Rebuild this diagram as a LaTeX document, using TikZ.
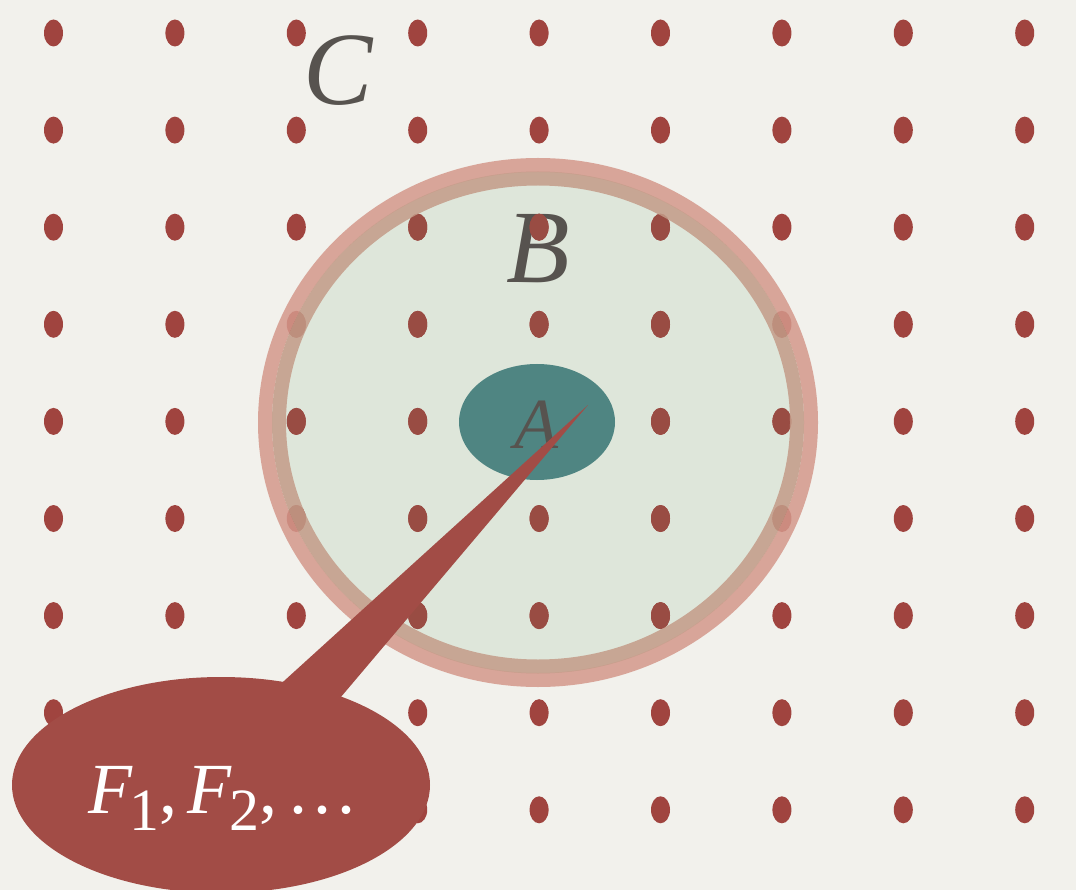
\documentclass[tikz,border=0pt]{standalone}
\usepackage{fontspec}
\setmainfont{Liberation Serif}
\usetikzlibrary{shapes.geometric}
\definecolor{paper}{HTML}{F2F1EC}
\definecolor{dotred}{HTML}{A0443F}
\definecolor{dotbrown}{HTML}{994C43}
\definecolor{fillgreen}{HTML}{DEE6DA}
\definecolor{ringout}{HTML}{D4988B}
\definecolor{ringin}{HTML}{C49B88}
\definecolor{tealA}{HTML}{4F8582}
\definecolor{calloutred}{HTML}{A24C46}
\definecolor{ink}{HTML}{57534F}
\newcommand{\subdigit}[1]{\raisebox{-17pt}{\fontsize{60}{60}\selectfont #1}}
\begin{document}
\begin{tikzpicture}[x=1pt,y=-1pt,
  dotmark/.style={fill=dotred},
  bigletter/.style={text=ink, inner sep=0pt, anchor=base, font=\fontsize{104}{104}\selectfont\itshape},
  smallletter/.style={text=ink, inner sep=0pt, anchor=base, font=\fontsize{72}{72}\selectfont\itshape},
  ringband/.style={line width=14pt, opacity=0.85},
  calloutfill/.style={fill=calloutred, draw=none}]
\useasboundingbox (0,0) rectangle (1076,890);
\fill[paper] (0,0) rectangle (1076,890);
% region B fill
\fill[fillgreen] (538,422.5) ellipse [x radius=266, y radius=250.5];
\node[bigletter] (Blabel) at (538,283) {B};
% grid of dots
\foreach \i in {0,...,8}{
  \foreach \j in {0,...,8}{
    \fill[dotmark] ({53.5+121.4*\i},{33+97.1*\j}) ellipse [x radius=9.5, y radius=13.5];
  }
}
% dots seen through region B are browner
\begin{scope}
  \clip (538,422.5) ellipse [x radius=266, y radius=250.5];
  \foreach \i in {0,...,8}{
    \foreach \j in {0,...,8}{
      \fill[dotbrown] ({53.5+121.4*\i},{33+97.1*\j}) ellipse [x radius=9.5, y radius=13.5];
    }
  }
\end{scope}
% ring
\draw[ringband, ringout] (538,422.5) ellipse [x radius=273, y radius=257.5];
\draw[ringband, ringin] (538,422.5) ellipse [x radius=259, y radius=244];
% region A
\node[ellipse, fill=tealA, minimum width=156, minimum height=116, inner sep=0pt] (A) at (537,422) {};
\node[smallletter] (Alabel) at (536,448) {A};
% label C
\node[bigletter] (Clabel) at (338,105) {C};
% callout
\coordinate (tip) at (588,405);
\coordinate (pl) at (230,730);
\coordinate (pr) at (313,730);
\fill[calloutfill] (pl) -- (tip) -- (pr) -- cycle;
\node[ellipse, calloutfill, minimum width=418, minimum height=216, inner sep=0pt] (F) at (221,785) {};
\node[anchor=base west, text=white, inner sep=0pt, font=\fontsize{72}{72}\selectfont] (Ftext) at (88,813)
  {\textit{F}\kern-3pt\subdigit{1},\hspace{10pt}\textit{F}\kern-3pt\subdigit{2},\hspace{12pt}.\kern6pt.\kern6pt.};
\end{tikzpicture}
\end{document}
